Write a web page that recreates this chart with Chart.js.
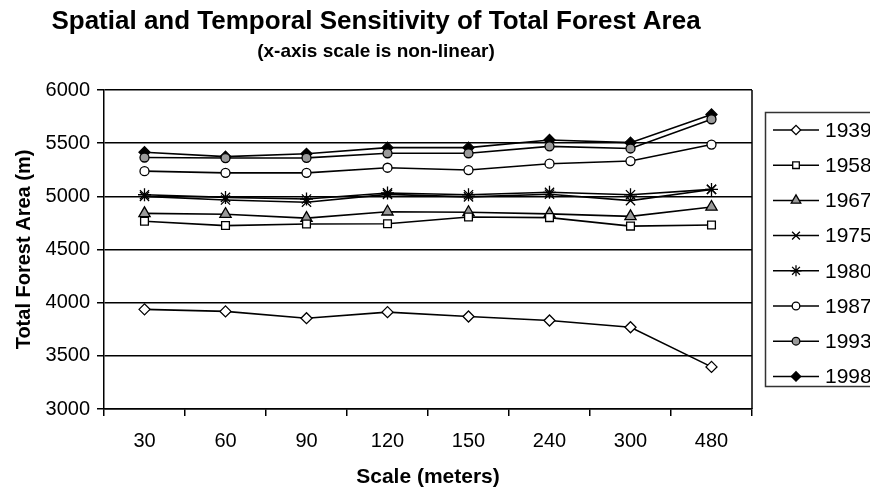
<!DOCTYPE html>
<html>
<head>
<meta charset="utf-8">
<script src="https://cdn.jsdelivr.net/npm/chart.js@4.4.1/dist/chart.umd.min.js"></script>
<style>
  html, body { margin: 0; padding: 0; background: #fff; }
  #wrap { width: 870px; height: 488px; }
</style>
</head>
<body>
<div id="wrap"><canvas id="c" width="870" height="488"></canvas></div>
<script>
const categories = ['30', '60', '90', '120', '150', '240', '300', '480'];
const seriesNames = ['1939', '1958', '1967', '1975', '1980', '1987', '1993', '1998'];
const y1939 = [3937, 3918, 3854, 3911, 3870, 3832, 3769, 3396];
const y1958 = [4765, 4725, 4740, 4742, 4805, 4800, 4720, 4730];
const y1967 = [4840, 4832, 4795, 4855, 4850, 4835, 4812, 4900];
const y1975 = [5000, 4965, 4945, 5018, 4995, 5020, 4960, 5065];
const y1980 = [5015, 4990, 4975, 5032, 5015, 5038, 5015, 5065];
const y1987 = [5237, 5221, 5221, 5269, 5247, 5307, 5332, 5487];
const y1993 = [5365, 5360, 5362, 5405, 5405, 5470, 5450, 5725];
const y1998 = [5415, 5373, 5400, 5458, 5458, 5530, 5505, 5770];
const yTicks = [3000, 3500, 4000, 4500, 5000, 5500, 6000];

const FONT = '"Liberation Sans", Arial, Helvetica, sans-serif';
const seriesValues = [y1939, y1958, y1967, y1975, y1980, y1987, y1993, y1998];
const styles = [
  { pointStyle: 'rectRot', fill: '#ffffff', radius: 5.5 },
  { pointStyle: 'rect', fill: '#ffffff', radius: 5.5 },
  { pointStyle: 'triangle', fill: '#9a9a9a', radius: 6.5 },
  { pointStyle: 'crossRot', fill: '#000000', radius: 6.5 },
  { pointStyle: 'star', fill: '#000000', radius: 6.5 },
  { pointStyle: 'circle', fill: '#ffffff', radius: 4.5 },
  { pointStyle: 'circle', fill: '#9a9a9a', radius: 4.5 },
  { pointStyle: 'rectRot', fill: '#000000', radius: 5.5 }
];

const datasets = seriesNames.map((name, i) => ({
  label: name,
  data: seriesValues[i],
  borderColor: '#000000',
  borderWidth: 1.6,
  backgroundColor: styles[i].fill,
  pointStyle: styles[i].pointStyle,
  pointRadius: styles[i].radius,
  pointBackgroundColor: styles[i].fill,
  pointBorderColor: '#000000',
  pointBorderWidth: 1.3,
  tension: 0,
  fill: false
}));

const frameAndLegend = {
  id: 'frameAndLegend',
  afterDraw(chart) {
    const ctx = chart.ctx;
    const a = chart.chartArea;
    ctx.save();
    ctx.strokeStyle = '#000';
    ctx.lineWidth = 1.5;
    ctx.beginPath();
    ctx.moveTo(a.right, a.top);
    ctx.lineTo(a.right, a.bottom);
    ctx.stroke();
    ctx.strokeStyle = '#333';
    ctx.lineWidth = 1.5;
    ctx.strokeRect(765.5, 112.5, 120, 274);
    const x0 = 773, x1 = 819, mx = 796, tx = 825;
    chart.data.datasets.forEach((ds, i) => {
      const y = 130 + i * 35.2;
      ctx.strokeStyle = '#000';
      ctx.lineWidth = 1.5;
      ctx.beginPath();
      ctx.moveTo(x0, y);
      ctx.lineTo(x1, y);
      ctx.stroke();
      ctx.fillStyle = ds.pointBackgroundColor;
      ctx.strokeStyle = '#000';
      ctx.lineWidth = 1.3;
      Chart.helpers.drawPoint(ctx, {
        pointStyle: ds.pointStyle,
        radius: ds.pointRadius * 0.85,
        rotation: 0,
        borderWidth: 1.3
      }, mx, y);
      ctx.fillStyle = '#000';
      ctx.font = '21px ' + FONT;
      ctx.textAlign = 'left';
      ctx.textBaseline = 'middle';
      ctx.fillText(ds.label, tx, y + 1);
    });
    ctx.restore();
  }
};

new Chart(document.getElementById('c'), {
  type: 'line',
  data: { labels: categories, datasets: datasets },
  plugins: [frameAndLegend],
  options: {
    responsive: false,
    animation: false,
    events: [],
    layout: { padding: { top: 6, right: 118, bottom: 0, left: 0 } },
    plugins: {
      legend: { display: false },
      tooltip: { enabled: false },
      title: {
        display: true,
        text: 'Spatial and Temporal Sensitivity of Total Forest Area',
        color: '#000',
        font: { family: FONT, size: 26, weight: 'bold' },
        padding: { top: 0, bottom: 3 }
      },
      subtitle: {
        display: true,
        text: '(x-axis scale is non-linear)',
        color: '#000',
        font: { family: FONT, size: 19, weight: 'bold' },
        padding: { top: 0, bottom: 27 }
      }
    },
    scales: {
      x: {
        type: 'category',
        offset: true,
        afterFit(scale) { scale.height = 79; },
        grid: {
          display: true,
          offset: true,
          drawOnChartArea: false,
          drawTicks: true,
          tickLength: 7,
          color: '#000',
          lineWidth: 1.5
        },
        border: { display: true, color: '#000', width: 1.5 },
        ticks: {
          color: '#000',
          font: { family: FONT, size: 20 },
          padding: 13,
          maxRotation: 0,
          autoSkip: false
        },
        title: {
          display: true,
          text: 'Scale (meters)',
          color: '#000',
          font: { family: FONT, size: 21, weight: 'bold', lineHeight: 1 },
          padding: { top: 0, bottom: 0 }
        }
      },
      y: {
        type: 'linear',
        min: 3000,
        max: 6000,
        afterFit(scale) { scale.width = 104; },
        afterBuildTicks(scale) { scale.ticks = yTicks.map(v => ({ value: v })); },
        grid: {
          color: '#000',
          lineWidth: 1.5,
          drawTicks: true,
          tickLength: 7
        },
        border: { display: true, color: '#000', width: 1.5 },
        ticks: {
          color: '#000',
          font: { family: FONT, size: 20 },
          padding: 7,
          callback: (v) => String(v)
        },
        title: {
          display: true,
          text: 'Total Forest Area (m)',
          color: '#000',
          font: { family: FONT, size: 20, weight: 'bold' },
          padding: { top: 12, bottom: 4 }
        }
      }
    }
  }
});
</script>
</body>
</html>
